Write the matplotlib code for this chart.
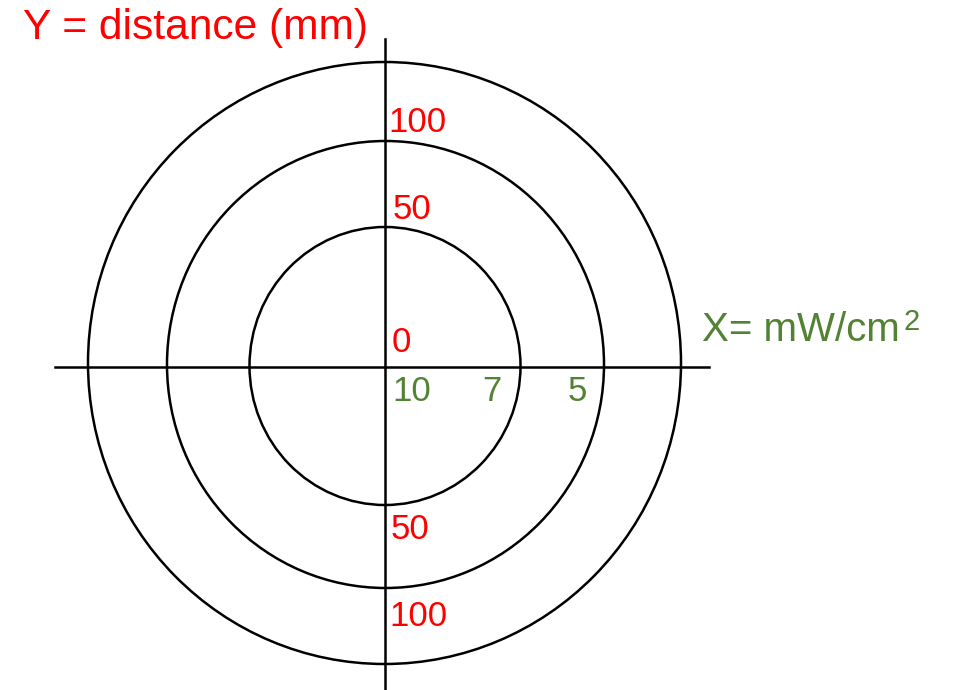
import matplotlib
matplotlib.use("Agg")
import matplotlib.pyplot as plt
from matplotlib.patches import Ellipse

# ---- chart text / labels ----
y_title = "Y = distance (mm)"
x_title = "X= mW/cm"
x_title_sup = "2"
y_labels_up = ["100", "50", "0"]
y_labels_down = ["50", "100"]
x_labels = ["10", "7", "5"]

RED = "#FF0000"
GREEN = "#548235"
FONT = "Liberation Sans"

# ---- layout (pixel coordinates of the 958x690 canvas) ----
W, H = 958, 690
cx, cy = 385, 367

# rings: (centre x, centre y, width, height)
rings = [
    (385, 366, 271, 278),
    (385.5, 364.5, 437, 447),
    (384.5, 363, 593, 602),
]

fig = plt.figure(figsize=(W / 100, H / 100), dpi=100)
ax = fig.add_axes([0, 0, 1, 1])
ax.set_xlim(0, W)
ax.set_ylim(H, 0)
ax.axis("off")

for (ex, ey, ew, eh) in rings:
    ax.add_patch(Ellipse((ex, ey), ew, eh, fill=False,
                         edgecolor="black", linewidth=1.8))

# axes lines
ax.plot([55, 709], [cy, cy], color="black", linewidth=1.8)
ax.plot([cx, cx], [39, H], color="black", linewidth=1.8)

# titles
ax.text(23, 39.5, y_title, color=RED, fontsize=30.6, family=FONT,
        ha="left", va="baseline")
ax.text(702, 341, x_title, color=GREEN, fontsize=29, family=FONT,
        ha="left", va="baseline")
ax.text(904, 330, x_title_sup, color=GREEN, fontsize=21, family=FONT,
        ha="left", va="baseline")

# distance labels (red)
up_pos = [(388, 132), (393, 219), (392, 352)]
for lab, (tx, ty) in zip(y_labels_up, up_pos):
    ax.text(tx, ty, lab, color=RED, fontsize=25, family=FONT,
            ha="left", va="baseline")

down_pos = [(391, 539), (389, 626)]
for lab, (tx, ty) in zip(y_labels_down, down_pos):
    ax.text(tx, ty, lab, color=RED, fontsize=25, family=FONT,
            ha="left", va="baseline")

# intensity labels (green)
x_pos = [392, 482, 568]
for lab, tx in zip(x_labels, x_pos):
    ax.text(tx, 401, lab, color=GREEN, fontsize=25, family=FONT,
            ha="left", va="baseline")

plt.savefig("out.png", dpi=100, facecolor="white")
